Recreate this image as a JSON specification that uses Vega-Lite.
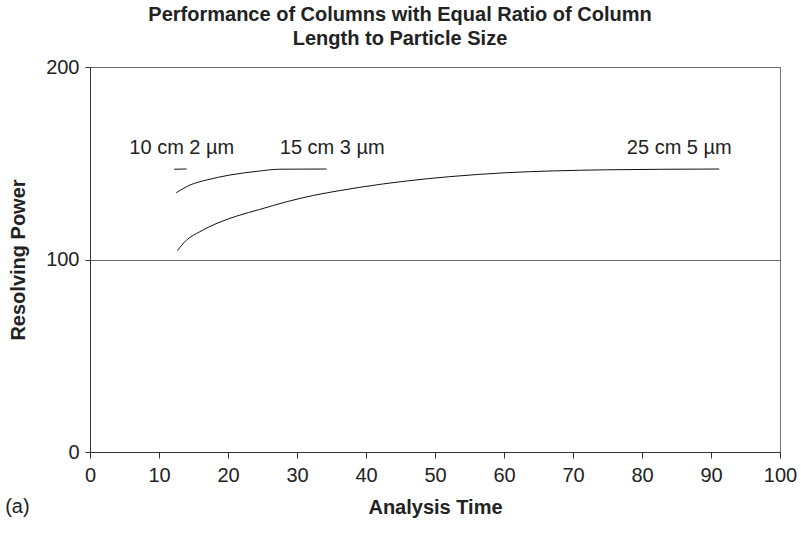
{
  "$schema": "https://vega.github.io/schema/vega-lite/v6.json",
  "width": 690,
  "height": 385,
  "autosize": {"type": "none"},
  "padding": {"left": 90, "top": 67, "right": 21, "bottom": 85},
  "background": "white",
  "config": {
    "font": "Liberation Sans",
    "view": {"stroke": "#777777", "strokeWidth": 1},
    "axis": {"labelFont": "Liberation Sans", "titleFont": "Liberation Sans", "labelFontSize": 20, "titleFontSize": 20, "labelColor": "#222222", "titleColor": "#222222", "domainColor": "#333333", "tickColor": "#333333"}
  },
  "title": {
    "text": ["Performance of Columns with Equal Ratio of Column", "Length to Particle Size"],
    "fontSize": 20,
    "fontWeight": "bold",
    "font": "Liberation Sans",
    "color": "#222222",
    "lineHeight": 24,
    "offset": 8,
    "anchor": "middle",
    "dx": -35
  },
  "datasets": {
    "curves": [
      {"series": "10 cm 2 µm", "t": 12.2, "rp": 146.9},
      {"series": "10 cm 2 µm", "t": 14.0, "rp": 147.0},
      {"series": "15 cm 3 µm", "t": 12.5, "rp": 134.7},
      {"series": "15 cm 3 µm", "t": 14.5, "rp": 138.7},
      {"series": "15 cm 3 µm", "t": 16.9, "rp": 141.3},
      {"series": "15 cm 3 µm", "t": 20.3, "rp": 143.9},
      {"series": "15 cm 3 µm", "t": 24.2, "rp": 145.8},
      {"series": "15 cm 3 µm", "t": 27.5, "rp": 146.9},
      {"series": "15 cm 3 µm", "t": 34.3, "rp": 147.0},
      {"series": "25 cm 5 µm", "t": 12.65, "rp": 104.6},
      {"series": "25 cm 5 µm", "t": 14.0, "rp": 110.1},
      {"series": "25 cm 5 µm", "t": 15.9, "rp": 114.4},
      {"series": "25 cm 5 µm", "t": 18.4, "rp": 118.8},
      {"series": "25 cm 5 µm", "t": 21.3, "rp": 122.6},
      {"series": "25 cm 5 µm", "t": 24.6, "rp": 126.0},
      {"series": "25 cm 5 µm", "t": 28.5, "rp": 130.0},
      {"series": "25 cm 5 µm", "t": 32.4, "rp": 133.3},
      {"series": "25 cm 5 µm", "t": 36.2, "rp": 135.8},
      {"series": "25 cm 5 µm", "t": 39.1, "rp": 137.5},
      {"series": "25 cm 5 µm", "t": 45.9, "rp": 140.8},
      {"series": "25 cm 5 µm", "t": 52.0, "rp": 143.0},
      {"series": "25 cm 5 µm", "t": 60.4, "rp": 145.1},
      {"series": "25 cm 5 µm", "t": 67.0, "rp": 146.0},
      {"series": "25 cm 5 µm", "t": 74.9, "rp": 146.6},
      {"series": "25 cm 5 µm", "t": 91.2, "rp": 147.0}
    ],
    "labels": [
      {"label": "10 cm 2 µm", "t": 13.3, "rp": 158, "align": "center"},
      {"label": "15 cm 3 µm", "t": 35.1, "rp": 158, "align": "center"},
      {"label": "25 cm 5 µm", "t": 85.4, "rp": 158, "align": "center"},
      {"label": "(a)", "t": -12.3, "rp": -28.6, "align": "left"}
    ]
  },
  "layer": [
    {
      "data": {"name": "curves"},
      "mark": {"type": "line", "color": "#111111", "strokeWidth": 1, "interpolate": "monotone"},
      "encoding": {
        "x": {
          "field": "t", "type": "quantitative",
          "scale": {"domain": [0, 100], "nice": false},
          "axis": {"title": "Analysis Time", "titleFontWeight": "bold", "values": [0,10,20,30,40,50,60,70,80,90,100], "grid": false, "tickSize": 6, "labelPadding": 7, "titlePadding": 12, "labelFlush": false}
        },
        "y": {
          "field": "rp", "type": "quantitative",
          "scale": {"domain": [0, 200], "nice": false},
          "axis": {"title": "Resolving Power", "titleFontWeight": "bold", "values": [0, 100, 200], "grid": true, "gridColor": "#666666", "gridOpacity": 1, "tickSize": 5, "labelPadding": 6, "titlePadding": 17}
        },
        "detail": {"field": "series"}
      }
    },
    {
      "data": {"name": "labels"},
      "transform": [{"filter": "datum.align == 'center'"}],
      "mark": {"type": "text", "fontSize": 20, "color": "#222222", "align": "center", "baseline": "middle", "font": "Liberation Sans"},
      "encoding": {
        "x": {"field": "t", "type": "quantitative"},
        "y": {"field": "rp", "type": "quantitative"},
        "text": {"field": "label"}
      }
    },
    {
      "data": {"name": "labels"},
      "transform": [{"filter": "datum.align == 'left'"}],
      "mark": {"type": "text", "fontSize": 20, "color": "#222222", "align": "left", "baseline": "middle", "font": "Liberation Sans", "clip": false},
      "encoding": {
        "x": {"field": "t", "type": "quantitative"},
        "y": {"field": "rp", "type": "quantitative"},
        "text": {"field": "label"}
      }
    }
  ]
}
